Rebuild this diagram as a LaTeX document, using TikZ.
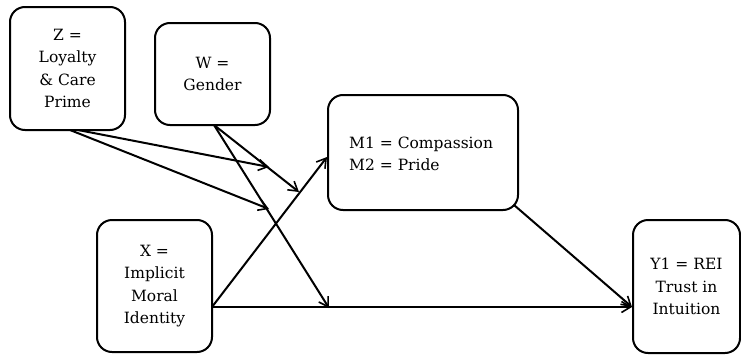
\documentclass[tikz,border=0pt]{standalone}
\usepackage{fontspec}
\setmainfont{DejaVu Serif}
\usetikzlibrary{arrows.meta}
\begin{document}
\begin{tikzpicture}[x=1pt,y=-1pt,
  label font/.style={font=\fontsize{15.5}{22.5}\selectfont},
  box/.style={draw, line width=2pt, rounded corners=15pt, align=center,
    inner sep=0pt, label font},
  link/.style={line width=2pt, -{Straight Barb[length=9pt,width=11pt,line width=1.6pt]}}]
\useasboundingbox (0,0) rectangle (741,356);
% variables
\node[box, minimum width=115pt, minimum height=123pt] (Z) at (67.5,68.5) {Z =\\Loyalty\\\& Care\\Prime};
\node[box, minimum width=115pt, minimum height=102pt] (W) at (212.5,74) {W =\\Gender};
\node[box, minimum width=190pt, minimum height=115pt] (M) at (423,152.5) {};
\node[anchor=west, align=left, inner sep=0pt, label font] (Mt) at (349,154) {M1 = Compassion\\M2 = Pride};
\node[box, minimum width=115pt, minimum height=132pt] (X) at (154.5,286) {X =\\Implicit\\Moral\\Identity};
\node[box, minimum width=107pt, minimum height=133pt] (Y) at (686.5,286.5) {Y1 = REI\\Trust in\\Intuition};
% attachment points
\coordinate (zs1) at (70,130);
\coordinate (zs2) at (78,130);
\coordinate (ws) at (214,125);
\coordinate (xo) at (212,307);
\coordinate (mo) at (514,205);
\coordinate (zt1) at (269,167);
\coordinate (zt2) at (269,209);
\coordinate (wt1) at (299,192);
\coordinate (wt2) at (329,308);
% paths
\draw[link] (xo) -- (M.west |- 0,157);
\draw[link] (xo) -- (Y.west |- xo);
\draw[link] (mo) -- (Y.west |- xo);
% moderators
\draw[link] (zs2) -- (zt1);
\draw[link] (zs1) -- (zt2);
\draw[link] (ws) -- (wt1);
\draw[link] (ws) -- (wt2);
\end{tikzpicture}
\end{document}
